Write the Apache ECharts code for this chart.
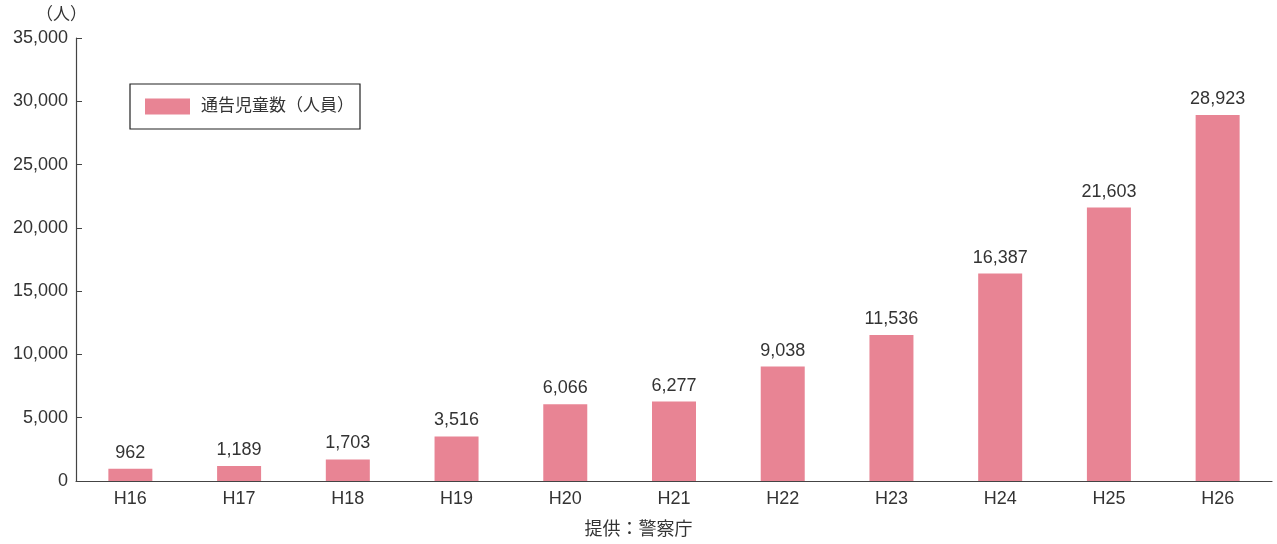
<!DOCTYPE html>
<html><head><meta charset="utf-8">
<script src="https://cdn.jsdelivr.net/npm/echarts@6/dist/echarts.min.js"></script>
<style>html,body{margin:0;padding:0;background:#fff}#c{width:1277px;height:544px}</style>
</head><body><div id="c"></div>
<script>
const categories = ['H16','H17','H18','H19','H20','H21','H22','H23','H24','H25','H26'];
const values = [962,1189,1703,3516,6066,6277,9038,11536,16387,21603,28923];
const seriesName = '通告児童数（人員）';
const unitLabel = '（人）';
const sourceText = '提供：警察庁';
const font = '"Liberation Sans", "Noto Sans CJK JP", sans-serif';
const chart = echarts.init(document.getElementById('c'));
chart.setOption({
  animation: false,
  textStyle: {fontFamily: font},
  grid: {left: 76, right: 5, top: 38, bottom: 63, containLabel: false},
  legend: {
    left: 130, top: 84, orient: 'horizontal', icon: 'rect',
    itemWidth: 45, itemHeight: 16, itemGap: 10,
    padding: [14, 6, 14, 15],
    borderColor: '#222', borderWidth: 1.2,
    textStyle: {fontSize: 17, color: '#333', fontFamily: font, padding: [0, 0, 0, 6]},
    data: [seriesName]
  },
  graphic: [
    {type: 'text', left: 36, top: 7, style: {text: unitLabel, fontSize: 17, fill: '#333', fontFamily: font}},
    {type: 'text', left: 'center', top: 521, style: {text: sourceText, fontSize: 18, fill: '#333', fontFamily: font}}
  ],
  xAxis: {
    type: 'category', data: categories,
    axisLine: {lineStyle: {color: '#444', width: 1.2}},
    axisTick: {inside: true, length: 6, lineStyle: {color: '#444'}},
    axisLabel: {fontSize: 18, color: '#333', margin: 9}
  },
  yAxis: {
    type: 'value', min: 0, max: 35000, interval: 5000,
    axisLine: {show: true, lineStyle: {color: '#444', width: 1.2}},
    axisTick: {show: true, inside: true, length: 6, lineStyle: {color: '#444'}},
    splitLine: {show: false},
    axisLabel: {fontSize: 18, color: '#333', margin: 8,
      formatter: v => v.toLocaleString('en-US')}
  },
  series: [{
    name: seriesName, type: 'bar', data: values, barWidth: 44,
    itemStyle: {color: '#E88494'},
    label: {show: true, position: 'top', distance: 7, fontSize: 18, color: '#333',
      formatter: p => p.value.toLocaleString('en-US')}
  }]
});
</script></body></html>
